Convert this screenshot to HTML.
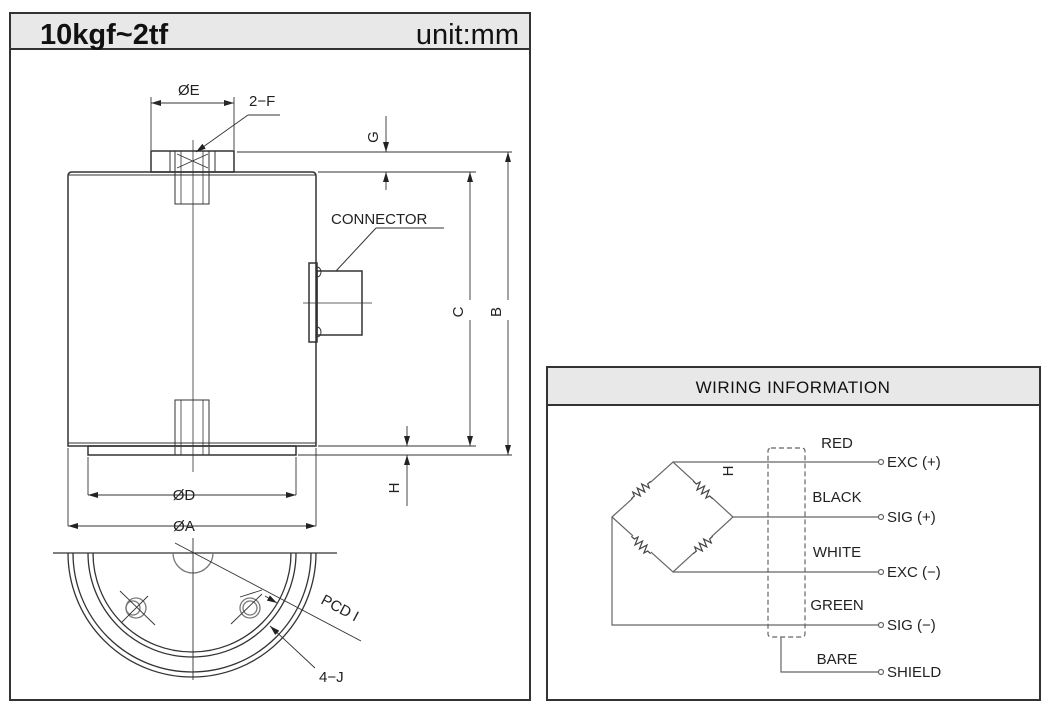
<!DOCTYPE html>
<html><head><meta charset="utf-8"><style>
html,body{margin:0;padding:0;background:#fff;}
svg{display:block;font-family:"Liberation Sans",sans-serif;}
</style></head><body>
<svg width="1060" height="709" viewBox="0 0 1060 709" xmlns="http://www.w3.org/2000/svg">
<defs>
<marker id="ar" markerWidth="10" markerHeight="6" refX="10" refY="3" orient="auto" markerUnits="userSpaceOnUse"><path d="M0,0 L10,3 L0,6 z" fill="#222"/></marker>
<g id="res"><rect x="-12" y="-5" width="24" height="10" fill="#fff" stroke="none"/><path d="M-13,0 L-9,0 L-7.5,-4 L-4.5,4 L-1.5,-4 L1.5,4 L4.5,-4 L7.5,4 L9,0 L13,0" fill="none" stroke="#444" stroke-width="1.2"/></g>
</defs>
<!-- Left panel -->
<rect x="10" y="13" width="520" height="687" fill="#fff" stroke="#333" stroke-width="2"/>
<rect x="11" y="14" width="518" height="35" fill="#e8e8e8"/>
<line x1="10" y1="49" x2="530" y2="49" stroke="#333" stroke-width="2"/>
<text x="40" y="44" font-size="29" font-weight="bold" fill="#111">10kgf~2tf</text>
<text x="519" y="44" font-size="29" text-anchor="end" fill="#111">unit:mm</text>

<g stroke="#333" stroke-width="1.5" fill="none">
<path d="M68,446 L68,176 Q68,172 72,172 L312,172 Q316,172 316,176 L316,446 Z"/>
<line x1="68" y1="175" x2="316" y2="175" stroke-width="1"/>
<line x1="68" y1="443" x2="316" y2="443" stroke-width="1"/>
<rect x="151" y="151" width="83" height="21"/>
<rect x="170" y="151" width="45" height="21" stroke-width="1"/>
<rect x="175" y="151" width="34" height="53" stroke-width="1"/>
<line x1="181" y1="151" x2="181" y2="204" stroke-width="0.8"/>
<line x1="203" y1="151" x2="203" y2="204" stroke-width="0.8"/>
<line x1="177" y1="154" x2="208" y2="168" stroke-width="0.8"/>
<line x1="208" y1="154" x2="177" y2="168" stroke-width="0.8"/>
<rect x="88" y="446" width="208" height="9"/>
<rect x="175" y="400" width="34" height="55" stroke-width="1"/>
<line x1="181" y1="400" x2="181" y2="455" stroke-width="0.8"/>
<line x1="203" y1="400" x2="203" y2="455" stroke-width="0.8"/>
<rect x="309" y="263" width="8" height="79"/>
<rect x="317" y="271" width="45" height="64"/>
<path d="M317,267 a4,5 0 0 1 0,10 M317,327 a4,5 0 0 1 0,10" stroke-width="1"/>
<line x1="303" y1="303" x2="372" y2="303" stroke-width="0.8"/>
<line x1="336" y1="271" x2="376" y2="228" stroke-width="1"/>
<line x1="376" y1="228" x2="444" y2="228" stroke-width="1"/>
<line x1="193" y1="140" x2="193" y2="472" stroke-width="0.8"/>
</g>
<g stroke="#333" stroke-width="0.9" fill="none">
<line x1="151" y1="97" x2="151" y2="150"/>
<line x1="234" y1="97" x2="234" y2="150"/>
<line x1="165" y1="103" x2="151" y2="103" marker-end="url(#ar)"/>
<line x1="220" y1="103" x2="234" y2="103" marker-end="url(#ar)"/>
<line x1="151" y1="103" x2="234" y2="103"/>
<line x1="280" y1="115" x2="248" y2="115"/>
<line x1="248" y1="115" x2="196" y2="152" marker-end="url(#ar)"/>
<line x1="237" y1="152" x2="512" y2="152"/>
<line x1="318" y1="172" x2="476" y2="172"/>
<line x1="386" y1="116" x2="386" y2="152" marker-end="url(#ar)"/>
<line x1="386" y1="190" x2="386" y2="172" marker-end="url(#ar)"/>
<line x1="470" y1="300" x2="470" y2="172" marker-end="url(#ar)"/>
<line x1="470" y1="320" x2="470" y2="446" marker-end="url(#ar)"/>
<line x1="508" y1="300" x2="508" y2="152" marker-end="url(#ar)"/>
<line x1="508" y1="320" x2="508" y2="455" marker-end="url(#ar)"/>
<line x1="318" y1="446" x2="476" y2="446"/>
<line x1="298" y1="455" x2="512" y2="455"/>
<line x1="407" y1="426" x2="407" y2="446" marker-end="url(#ar)"/>
<line x1="407" y1="506" x2="407" y2="455" marker-end="url(#ar)"/>
<line x1="88" y1="457" x2="88" y2="495"/>
<line x1="296" y1="457" x2="296" y2="495"/>
<line x1="68" y1="448" x2="68" y2="526"/>
<line x1="316" y1="448" x2="316" y2="526"/>
<line x1="192" y1="495" x2="88" y2="495" marker-end="url(#ar)"/>
<line x1="192" y1="495" x2="296" y2="495" marker-end="url(#ar)"/>
<line x1="192" y1="526" x2="68" y2="526" marker-end="url(#ar)"/>
<line x1="192" y1="526" x2="316" y2="526" marker-end="url(#ar)"/>
</g>
<g font-size="15" fill="#222">
<text x="178" y="95">ØE</text>
<text x="249" y="106">2−F</text>
<text x="331" y="224">CONNECTOR</text>
<text transform="translate(378,137) rotate(-90)" text-anchor="middle">G</text>
<text transform="translate(463,312) rotate(-90)" text-anchor="middle">C</text>
<text transform="translate(501,312) rotate(-90)" text-anchor="middle">B</text>
<text transform="translate(399,488) rotate(-90)" text-anchor="middle">H</text>
<text x="184" y="500" text-anchor="middle">ØD</text>
<text x="184" y="531" text-anchor="middle">ØA</text>
<text transform="translate(320,603) rotate(28)">PCD I</text>
<text x="319" y="682">4−J</text>
</g>
<g stroke="#333" stroke-width="1.3" fill="none">
<line x1="53" y1="553" x2="337" y2="553"/>
<path d="M68,553 A124,124 0 0 0 316,553"/>
<path d="M73,553 A119,119 0 0 0 311,553"/>
<path d="M88,553 A104,104 0 0 0 296,553"/>
<path d="M93,553 A99,99 0 0 0 291,553"/>
<path d="M173,553 A20,20 0 0 0 213,553" stroke="#777"/>
<circle cx="136" cy="608" r="10" stroke="#777"/>
<circle cx="133" cy="608" r="7" stroke="#777"/>
<circle cx="250" cy="608" r="10" stroke="#777"/>
<circle cx="250" cy="608" r="7" stroke="#777"/>
</g>
<g stroke="#333" stroke-width="0.9" fill="none">
<line x1="193" y1="538" x2="193" y2="680"/>
<line x1="120" y1="591" x2="155" y2="625"/>
<line x1="148" y1="596" x2="122" y2="622"/>
<line x1="240" y1="597" x2="262" y2="590"/>
<line x1="231" y1="624" x2="262" y2="594"/>
<line x1="175" y1="543" x2="361" y2="641"/>
<line x1="265" y1="596" x2="277" y2="603" marker-end="url(#ar)"/>
<line x1="315" y1="668" x2="270" y2="626" marker-end="url(#ar)"/>
</g>

<!-- Right panel -->
<rect x="547" y="367" width="493" height="333" fill="#fff" stroke="#333" stroke-width="2"/>
<rect x="548" y="368" width="491" height="37" fill="#e8e8e8"/>
<line x1="547" y1="405" x2="1040" y2="405" stroke="#333" stroke-width="2"/>
<text x="793" y="393" font-size="17" text-anchor="middle" fill="#111" letter-spacing="0.5">WIRING INFORMATION</text>

<g stroke="#666" stroke-width="1.2" fill="none">
<path d="M612,517 L673,462 L733,517 L673,572 Z"/>
<line x1="673" y1="462" x2="878" y2="462"/>
<line x1="733" y1="517" x2="878" y2="517"/>
<line x1="673" y1="572" x2="878" y2="572"/>
<path d="M612,517 L612,625 L878,625"/>
<path d="M781,637 L781,672 L878,672"/>
<rect x="768" y="448" width="37" height="189" rx="3" stroke-dasharray="5,3"/>
<circle cx="881" cy="462" r="2.5"/><circle cx="881" cy="517" r="2.5"/>
<circle cx="881" cy="572" r="2.5"/><circle cx="881" cy="625" r="2.5"/>
<circle cx="881" cy="672" r="2.5"/>
</g>
<use href="#res" transform="translate(641,490) rotate(-42)"/>
<use href="#res" transform="translate(703,490) rotate(42)"/>
<use href="#res" transform="translate(641,545) rotate(42)"/>
<use href="#res" transform="translate(703,545) rotate(-42)"/>
<text transform="translate(733,471) rotate(-90)" font-size="15" text-anchor="middle" fill="#222">H</text>
<g font-size="15" fill="#222">
<text x="837" y="448" text-anchor="middle">RED</text>
<text x="837" y="502" text-anchor="middle">BLACK</text>
<text x="837" y="557" text-anchor="middle">WHITE</text>
<text x="837" y="610" text-anchor="middle">GREEN</text>
<text x="837" y="664" text-anchor="middle">BARE</text>
<text x="887" y="467">EXC (+)</text>
<text x="887" y="522">SIG (+)</text>
<text x="887" y="577">EXC (−)</text>
<text x="887" y="630">SIG (−)</text>
<text x="887" y="677">SHIELD</text>
</g>
</svg>
</body></html>
